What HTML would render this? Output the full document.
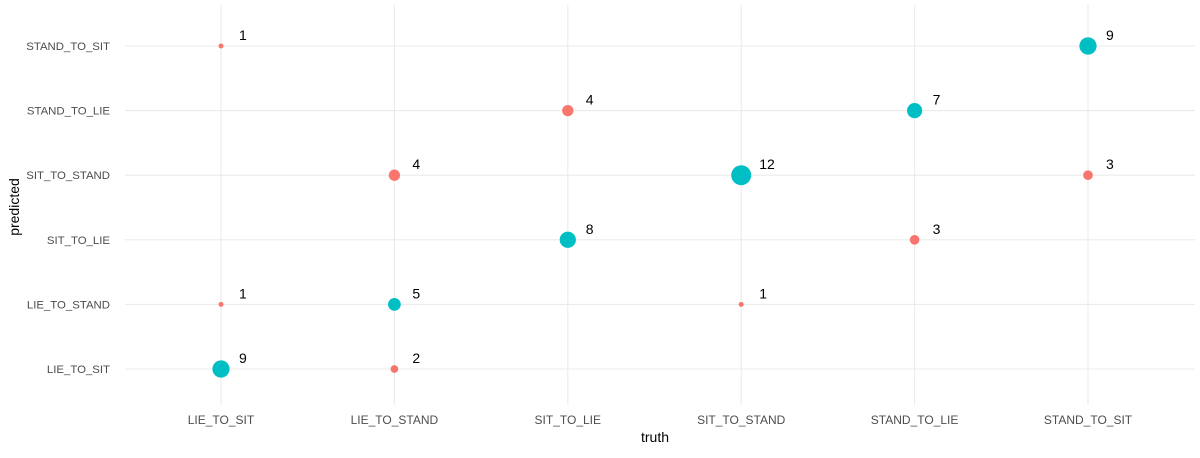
<!DOCTYPE html>
<html><head><meta charset="utf-8"><style>
body{margin:0;background:#fff;}
svg text{font-family:"Liberation Sans",sans-serif;}
</style></head><body>
<svg id="chart" width="1200" height="453">
<g id="grid"></g>
<g id="axes"></g>
<g id="marks"></g>
<text x="655" y="442" font-size="14" text-anchor="middle" fill="#000">truth</text>
<text transform="translate(19,207) rotate(-90)" font-size="14" text-anchor="middle" fill="#000">predicted</text>
</svg>
<script>
const xCats=["LIE_TO_SIT","LIE_TO_STAND","SIT_TO_LIE","SIT_TO_STAND","STAND_TO_LIE","STAND_TO_SIT"];
const yCats=["LIE_TO_SIT","LIE_TO_STAND","SIT_TO_LIE","SIT_TO_STAND","STAND_TO_LIE","STAND_TO_SIT"];
const truthVals=["LIE_TO_SIT","SIT_TO_LIE","STAND_TO_LIE","STAND_TO_SIT","LIE_TO_STAND","SIT_TO_STAND","STAND_TO_SIT","SIT_TO_LIE","STAND_TO_LIE","LIE_TO_SIT","LIE_TO_STAND","SIT_TO_STAND","LIE_TO_SIT","LIE_TO_STAND"];
const predVals=["STAND_TO_SIT","STAND_TO_LIE","STAND_TO_LIE","STAND_TO_SIT","SIT_TO_STAND","SIT_TO_STAND","SIT_TO_STAND","SIT_TO_LIE","SIT_TO_LIE","LIE_TO_STAND","LIE_TO_STAND","LIE_TO_STAND","LIE_TO_SIT","LIE_TO_SIT"];
const counts=[1,4,7,9,4,12,3,8,3,1,5,1,9,2];
const correct=[false,false,true,true,false,true,false,true,false,false,true,false,true,false];
const NS="http://www.w3.org/2000/svg";
function xScale(c){return 221+xCats.indexOf(c)*173.4;}
function yScale(c){return 369-yCats.indexOf(c)*64.6;}
function rScale(v){return Math.sqrt(6.25+8.52*(v-1));}
function mk(tag,attrs,parent){const e=document.createElementNS(NS,tag);for(const k in attrs)e.setAttribute(k,attrs[k]);parent.appendChild(e);return e;}
const grid=document.getElementById('grid'),axes=document.getElementById('axes'),marks=document.getElementById('marks');
xCats.forEach(c=>{
  const l=mk('line',{x1:xScale(c),x2:xScale(c),y1:5,y2:405,stroke:'#ebebeb','stroke-width':1.1},grid);
  
  
  const t=mk('text',{x:xScale(c),y:424,'font-size':12,'text-anchor':'middle',fill:'#4d4d4d'},axes);
  t.textContent=c;
  
  
});
yCats.forEach(c=>{
  const l=mk('line',{x1:125,x2:1195,y1:yScale(c),y2:yScale(c),stroke:'#ebebeb','stroke-width':1.1},grid);
  
  
  const t=mk('text',{x:110,y:yScale(c)+4,'font-size':11.4,'text-anchor':'end',fill:'#4d4d4d'},axes);
  t.textContent=c;
  
  
});
counts.forEach((v,i)=>{
  const cx=xScale(truthVals[i]),cy=yScale(predVals[i]);
  const c=mk('circle',{cx:cx,cy:cy,r:rScale(v),fill:correct[i]?'#00BFC4':'#F8766D'},marks);
  
  
  const t=mk('text',{x:cx+18,y:cy-6,'font-size':14,fill:'#000'},marks);
  t.textContent=v;
  
  
});
</script>
</body></html>
